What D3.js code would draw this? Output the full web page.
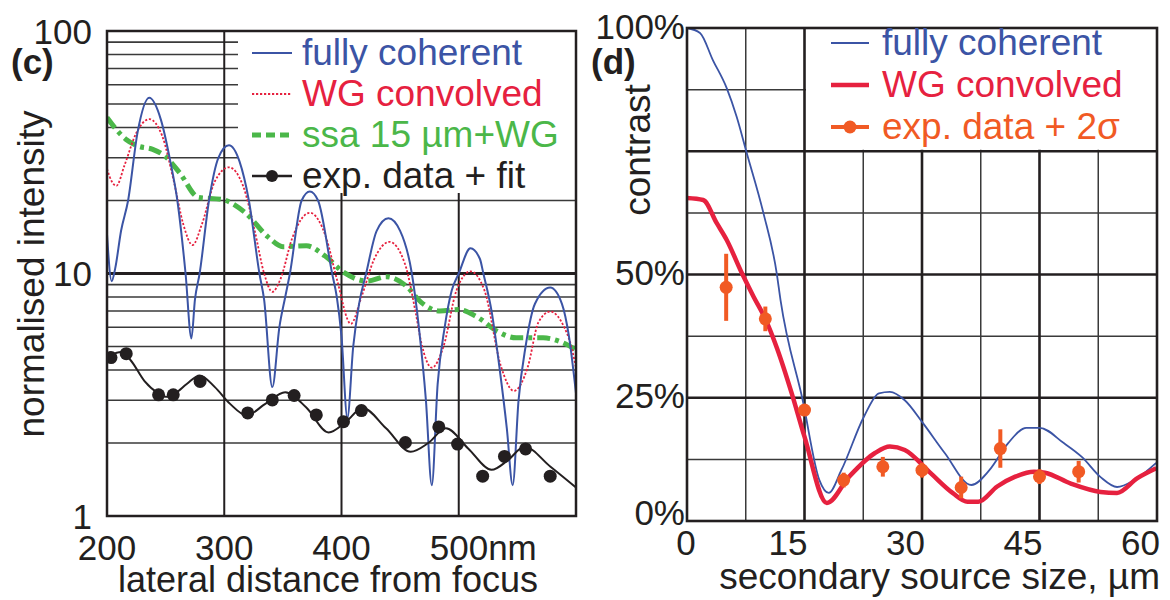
<!DOCTYPE html>
<html>
<head>
<meta charset="utf-8">
<script src="https://cdn.jsdelivr.net/npm/d3@7"></script>
<style>
  body { margin: 0; background: #fff; }
  text { font-family: "Liberation Sans", Arial, sans-serif; fill: #231f20; }
</style>
</head>
<body>
<div id="chart"></div>
<script>
// ---- panel (c): lateral profiles, log intensity ----
var cTickX = [200, 300, 400, 500];
var cTickXLabels = ["200", "300", "400", "500nm"];
var cTickY = [1, 10, 100];
var cMinorY = [2, 3, 4, 5, 6, 7, 8, 9, 20, 30, 40, 50, 60, 70, 80, 90];

var cCoherent = [[200,14.5],[204,9.3],[207,10.5],[212,15],[218,20],[226,38],[236,53],[246,43],[254,29],[260,20],[267,10],[272,5.4],
  [275,7.8],[279,10],[287,20],[295,30],[304,33.8],[313,29],[321,20],[330,10],[334,7.8],[341,3.4],
  [347,6],[352,8],[356,10],[366,20],[373,21.8],[380,20],[392,10],[396,8],[400,5.5],[405,2.54],
  [410,5],[415,7.5],[421,10],[430,15],[440,16.9],[450,15],[460,10],[466,6],[472,3],[477,1.34],
  [482,3.5],[488,6],[494,8.5],[500,10],[510,12.7],[518,11.5],[521,10],[528,7],[535,4],[541,2.3],[546,1.34],
  [551,3],[557,5],[565,7.5],[578,8.75],[588,7.5],[594,5.5],[600,3.2]];
var cConvolved = [[200,27],[204,24],[208,23],[215,28],[225,38],[236,43.3],[247,37],[257,24],[265,16],[273,13.1],[281,16],[292,24],
  [304,27.4],[316,23],[326,15],[334,10],[341,8.4],[348,9.5],[358,14],[373,17.8],[387,14],[396,9.5],[408,6.2],[417,8],
  [428,11.5],[441,13.5],[454,11],[463,7],[468,5.2],[477,4.09],[487,5.0],[498,8.5],[510,10.2],[522,8.5],[536,4.14],
  [547,3.28],[559,4.14],[568,6.3],[578,6.97],[590,6],[595,5.2],[600,4.09]];
var cSsa = [[200,44],[216,35.8],[226,33.6],[239,32.5],[249,30.6],[262,26],[278,20.6],[298,20.2],[318,17.8],[337,14.2],
  [350,12.9],[370,13],[386,11.8],[402,10.1],[422,9.3],[438,9.7],[455,8.9],[468,7.6],[484,7.0],[500,7.1],
  [516,6.6],[533,5.77],[549,5.43],[572,5.43],[588,5.2],[600,4.85]];
var cFit = [[203,4.6],[212,4.75],[220,4.4],[232,3.6],[244,3.2],[250,3.1],[258,3.2],[268,3.5],[279,3.8],[292,3.4],
  [305,2.9],[319,2.6],[335,2.9],[352,3.24],[370,2.8],[389,2.21],[404,2.45],[418,2.79],[438,2.3],[459,1.84],
  [474,2.0],[489,2.3],[508,1.9],[528,1.55],[542,1.7],[556,1.93],[578,1.6],[600,1.31]];
var cExp = [[203.4,4.5],[216.4,4.67],[244,3.16],[256.5,3.16],[279.4,3.59],[320,2.66],[341,3.01],[359.6,3.14],
  [378.5,2.61],[401.7,2.45],[417,2.72],[454.5,2.01],[483,2.33],[499,1.98],[520.4,1.46],[539,1.76],[557,1.89],[578,1.46]];
var cLegend = ["fully coherent", "WG convolved", "ssa 15 \u00b5m+WG", "exp. data + fit"];

// ---- panel (d): contrast vs secondary source size ----
var dTickX = [0, 15, 30, 45, 60];
var dMinorX = [7.5, 22.5, 37.5, 52.5];
var dTickY = [0, 25, 50, 100];
var dTickYLabels = ["0%", "25%", "50%", "100%"];
var dMajorY = [25, 50, 75];
var dMinorY = [12.5, 37.5, 62.5, 87.5];

var dCoherent = [[0,100],[1.66,99],[3.3,93.5],[5.07,87.8],[6.34,82],[7.6,74.8],[9.75,62.5],[11.45,50.3],[11.94,44.8],
  [14.77,24.5],[16.9,8.3],[18.1,5.7],[19.7,10.3],[22.6,21.2],[24.5,25.9],[25.9,26.2],[27.8,24.5],[30.1,19.9],
  [32.9,13.8],[36.3,7.3],[38.6,10.3],[41,15.8],[43.3,18.9],[45,18.9],[48.1,15.8],[50.4,13],[52.8,8.9],
  [54.9,6.9],[57.1,8.3],[59.9,11.8]];
var dConvolved = [[0,65.5],[2.07,65.1],[3.8,60.4],[5.07,57],[7,50.3],[8.5,45.5],[10,41],[11.5,35],[13.35,26],[15,17.1],
  [17.85,3.65],[20.7,9],[24,13.8],[25.9,15.1],[27.8,14.4],[31.1,9.7],[33.9,5.7],[35.8,3.9],[37.2,3.9],[39.6,7],
  [41.9,9],[44.3,10],[45.7,9.8],[49,7.6],[52.8,5.9],[54.9,5.7],[57.5,8.7],[59.9,10.7]];
var dExpX = [5, 10, 15, 20, 25, 30, 35, 40, 45, 50];
var dExpY = [47.4, 41, 22.5, 8.3, 11, 10.3, 6.8, 14.7, 9, 10];
var dExpErr = [6.8, 2.5, 1, 1.5, 2, 1.5, 2.2, 3.9, 1.5, 2.2];
var dLegend = ["fully coherent", "WG convolved", "exp. data + 2\u03c3"];

var blue = "#3b54a5", red = "#e6213f", green = "#4bb749", orange = "#f15a24", black = "#231f20";

var svg = d3.select("#chart").append("svg")
    .attr("width", 1170)
    .attr("height", 600)
    .style("background", "#fff");

// ================= panel (c) =================
var xC = d3.scaleLinear().domain([200, 600]).range([107, 576]);
var yC = d3.scaleLog().domain([1, 100]).range([516, 31]);
var gc = svg.append("g");

gc.selectAll(".hminor").data(cMinorY).enter().append("line")
    .attr("x1", xC(200)).attr("x2", xC(600))
    .attr("y1", function(d) { return yC(d); }).attr("y2", function(d) { return yC(d); })
    .attr("stroke", "#3a3a3a").attr("stroke-width", 1.6);
gc.append("line")
    .attr("x1", xC(200)).attr("x2", xC(600)).attr("y1", yC(10)).attr("y2", yC(10))
    .attr("stroke", black).attr("stroke-width", 3);
gc.selectAll(".vgrid").data(cTickX.slice(1)).enter().append("line")
    .attr("x1", function(d) { return xC(d); }).attr("x2", function(d) { return xC(d); })
    .attr("y1", yC(1)).attr("y2", yC(100))
    .attr("stroke", black).attr("stroke-width", 2);

// legend background hides grid
gc.append("rect").attr("x", 238).attr("y", 32).attr("width", 337).attr("height", 161).attr("fill", "#fff");

gc.append("clipPath").attr("id", "clipC").append("rect")
    .attr("x", xC(200)).attr("y", yC(100)).attr("width", xC(600) - xC(200)).attr("height", yC(1) - yC(100));

var lineC = d3.line()
    .x(function(d) { return xC(d[0]); })
    .y(function(d) { return yC(d[1]); })
    .curve(d3.curveMonotoneX);

var curves = gc.append("g").attr("clip-path", "url(#clipC)");
curves.append("path").datum(cSsa).attr("d", lineC).attr("fill", "none")
    .attr("stroke", green).attr("stroke-width", 5).attr("stroke-dasharray", "13,5,4,5");
curves.append("path").datum(cConvolved).attr("d", lineC).attr("fill", "none")
    .attr("stroke", red).attr("stroke-width", 1.8).attr("stroke-dasharray", "2.2,1.8");
curves.append("path").datum(cCoherent).attr("d", lineC).attr("fill", "none")
    .attr("stroke", blue).attr("stroke-width", 2);
curves.append("path").datum(cFit).attr("d", lineC).attr("fill", "none")
    .attr("stroke", black).attr("stroke-width", 2);
curves.selectAll(".dot").data(cExp).enter().append("circle")
    .attr("cx", function(d) { return xC(d[0]); })
    .attr("cy", function(d) { return yC(d[1]); })
    .attr("r", 6.5).attr("fill", black);

// frame
gc.append("rect").attr("x", xC(200)).attr("y", yC(100))
    .attr("width", xC(600) - xC(200)).attr("height", yC(1) - yC(100))
    .attr("fill", "none").attr("stroke", black).attr("stroke-width", 2.5);

// tick labels
gc.selectAll(".ylab").data(cTickY).enter().append("text")
    .attr("x", 92).attr("y", function(d) { return yC(d); }).attr("dy", "0.36em")
    .attr("text-anchor", "end").style("font-size", "35px")
    .text(function(d) { return d; });
gc.selectAll(".xlab").data(cTickX).enter().append("text")
    .attr("x", function(d, i) { return i == 3 ? xC(d) - 29 : xC(d); })
    .attr("y", 560)
    .attr("text-anchor", function(d, i) { return i == 3 ? "start" : "middle"; })
    .style("font-size", "35px")
    .text(function(d, i) { return cTickXLabels[i]; });

gc.append("text").attr("x", 328).attr("y", 592).attr("text-anchor", "middle")
    .style("font-size", "36px").text("lateral distance from focus");
gc.append("text").attr("transform", "translate(44,274) rotate(-90)").attr("text-anchor", "middle")
    .style("font-size", "37px").text("normalised intensity");
gc.append("text").attr("x", 11).attr("y", 74).style("font-size", "35px").style("font-weight", "bold").text("(c)");

// legend (c)
var legC = gc.selectAll(".legc").data(cLegend).enter().append("g")
    .attr("transform", function(d, i) { return "translate(252," + (53 + i * 41) + ")"; });
var legCol = [blue, red, green, black];
legC.append("line").attr("x1", 0).attr("x2", 40).attr("y1", 0).attr("y2", 0)
    .attr("stroke", function(d, i) { return legCol[i]; })
    .attr("stroke-width", function(d, i) { return [2, 1.8, 5, 2.5][i]; })
    .attr("stroke-dasharray", function(d, i) { return ["none", "2.2,1.8", "9,5", "none"][i]; });
legC.filter(function(d, i) { return i == 3; }).append("circle").attr("cx", 20).attr("cy", 0).attr("r", 6).attr("fill", black);
legC.append("text").attr("x", 50).attr("y", 12).style("font-size", "37px")
    .style("fill", function(d, i) { return legCol[i]; })
    .text(function(d) { return d; });

// ================= panel (d) =================
var xD = d3.scaleLinear().domain([0, 60]).range([687, 1157]);
var yD = d3.scaleLinear().domain([0, 100]).range([521, 28]);
var gd = svg.append("g");

gd.selectAll(".hmin").data(dMinorY).enter().append("line")
    .attr("x1", xD(0)).attr("x2", xD(60))
    .attr("y1", function(d) { return yD(d); }).attr("y2", function(d) { return yD(d); })
    .attr("stroke", "#3a3a3a").attr("stroke-width", 1.5);
gd.selectAll(".vmin").data(dMinorX).enter().append("line")
    .attr("x1", function(d) { return xD(d); }).attr("x2", function(d) { return xD(d); })
    .attr("y1", yD(0)).attr("y2", yD(100))
    .attr("stroke", "#3a3a3a").attr("stroke-width", 1.5);
gd.selectAll(".hmaj").data(dMajorY).enter().append("line")
    .attr("x1", xD(0)).attr("x2", xD(60))
    .attr("y1", function(d) { return yD(d); }).attr("y2", function(d) { return yD(d); })
    .attr("stroke", black).attr("stroke-width", 2.6);
gd.selectAll(".vmaj").data(dTickX.slice(1, 4)).enter().append("line")
    .attr("x1", function(d) { return xD(d); }).attr("x2", function(d) { return xD(d); })
    .attr("y1", yD(0)).attr("y2", yD(100))
    .attr("stroke", black).attr("stroke-width", 2.6);

// legend background
gd.append("rect").attr("x", xD(15) + 1.5).attr("y", 29).attr("width", xD(60) - xD(15) - 2.5).attr("height", yD(75) - 30.5).attr("fill", "#fff");

var lineD = d3.line()
    .x(function(d) { return xD(d[0]); })
    .y(function(d) { return yD(d[1]); })
    .curve(d3.curveMonotoneX);

gd.append("path").datum(dCoherent).attr("d", lineD).attr("fill", "none")
    .attr("stroke", blue).attr("stroke-width", 1.8);
gd.append("path").datum(dConvolved).attr("d", lineD).attr("fill", "none")
    .attr("stroke", red).attr("stroke-width", 4.5).attr("stroke-linejoin", "round");

var exp = gd.selectAll(".exp").data(dExpX).enter().append("g");
exp.append("line")
    .attr("x1", function(d) { return xD(d); }).attr("x2", function(d) { return xD(d); })
    .attr("y1", function(d, i) { return yD(dExpY[i] + dExpErr[i]); })
    .attr("y2", function(d, i) { return yD(dExpY[i] - dExpErr[i]); })
    .attr("stroke", orange).attr("stroke-width", 4);
exp.append("circle")
    .attr("cx", function(d) { return xD(d); })
    .attr("cy", function(d, i) { return yD(dExpY[i]); })
    .attr("r", 6.5).attr("fill", orange);

gd.append("rect").attr("x", xD(0)).attr("y", yD(100))
    .attr("width", xD(60) - xD(0)).attr("height", yD(0) - yD(100))
    .attr("fill", "none").attr("stroke", black).attr("stroke-width", 2.6);

gd.selectAll(".ylab").data(dTickY).enter().append("text")
    .attr("x", 685)
    .attr("y", function(d) { return d == 0 ? yD(d) - 9 : yD(d) - 2; })
    .attr("dy", "0.36em").attr("text-anchor", "end").style("font-size", "35px")
    .text(function(d, i) { return dTickYLabels[i]; });
gd.selectAll(".xlab").data(dTickX).enter().append("text")
    .attr("x", function(d, i) { return i == 0 ? xD(d) - 1 : xD(d) + 3; })
    .attr("y", 555)
    .attr("text-anchor", function(d, i) { return i == 0 ? "middle" : "end"; })
    .style("font-size", "35px")
    .text(function(d) { return d; });

gd.append("text").attr("x", 1160).attr("y", 589).attr("text-anchor", "end")
    .style("font-size", "37px").text("secondary source size, \u00b5m");
gd.append("text").attr("transform", "translate(650,150) rotate(-90)").attr("text-anchor", "middle")
    .style("font-size", "37px").text("contrast");
gd.append("text").attr("x", 591).attr("y", 74).style("font-size", "35px").style("font-weight", "bold").text("(d)");

// legend (d)
var legDCol = [blue, red, orange];
var legD = gd.selectAll(".legd").data(dLegend).enter().append("g")
    .attr("transform", function(d, i) { return "translate(831," + (43 + i * 42) + ")"; });
legD.append("line").attr("x1", 0).attr("x2", 38).attr("y1", 0).attr("y2", 0)
    .attr("stroke", function(d, i) { return legDCol[i]; })
    .attr("stroke-width", function(d, i) { return [1.8, 4.5, 4][i]; });
legD.filter(function(d, i) { return i == 2; }).append("circle").attr("cx", 19).attr("cy", 0).attr("r", 6.5).attr("fill", orange);
legD.append("text").attr("x", 51).attr("y", 12).style("font-size", "37px")
    .style("fill", function(d, i) { return legDCol[i]; })
    .text(function(d) { return d; });
</script>
</body>
</html>
